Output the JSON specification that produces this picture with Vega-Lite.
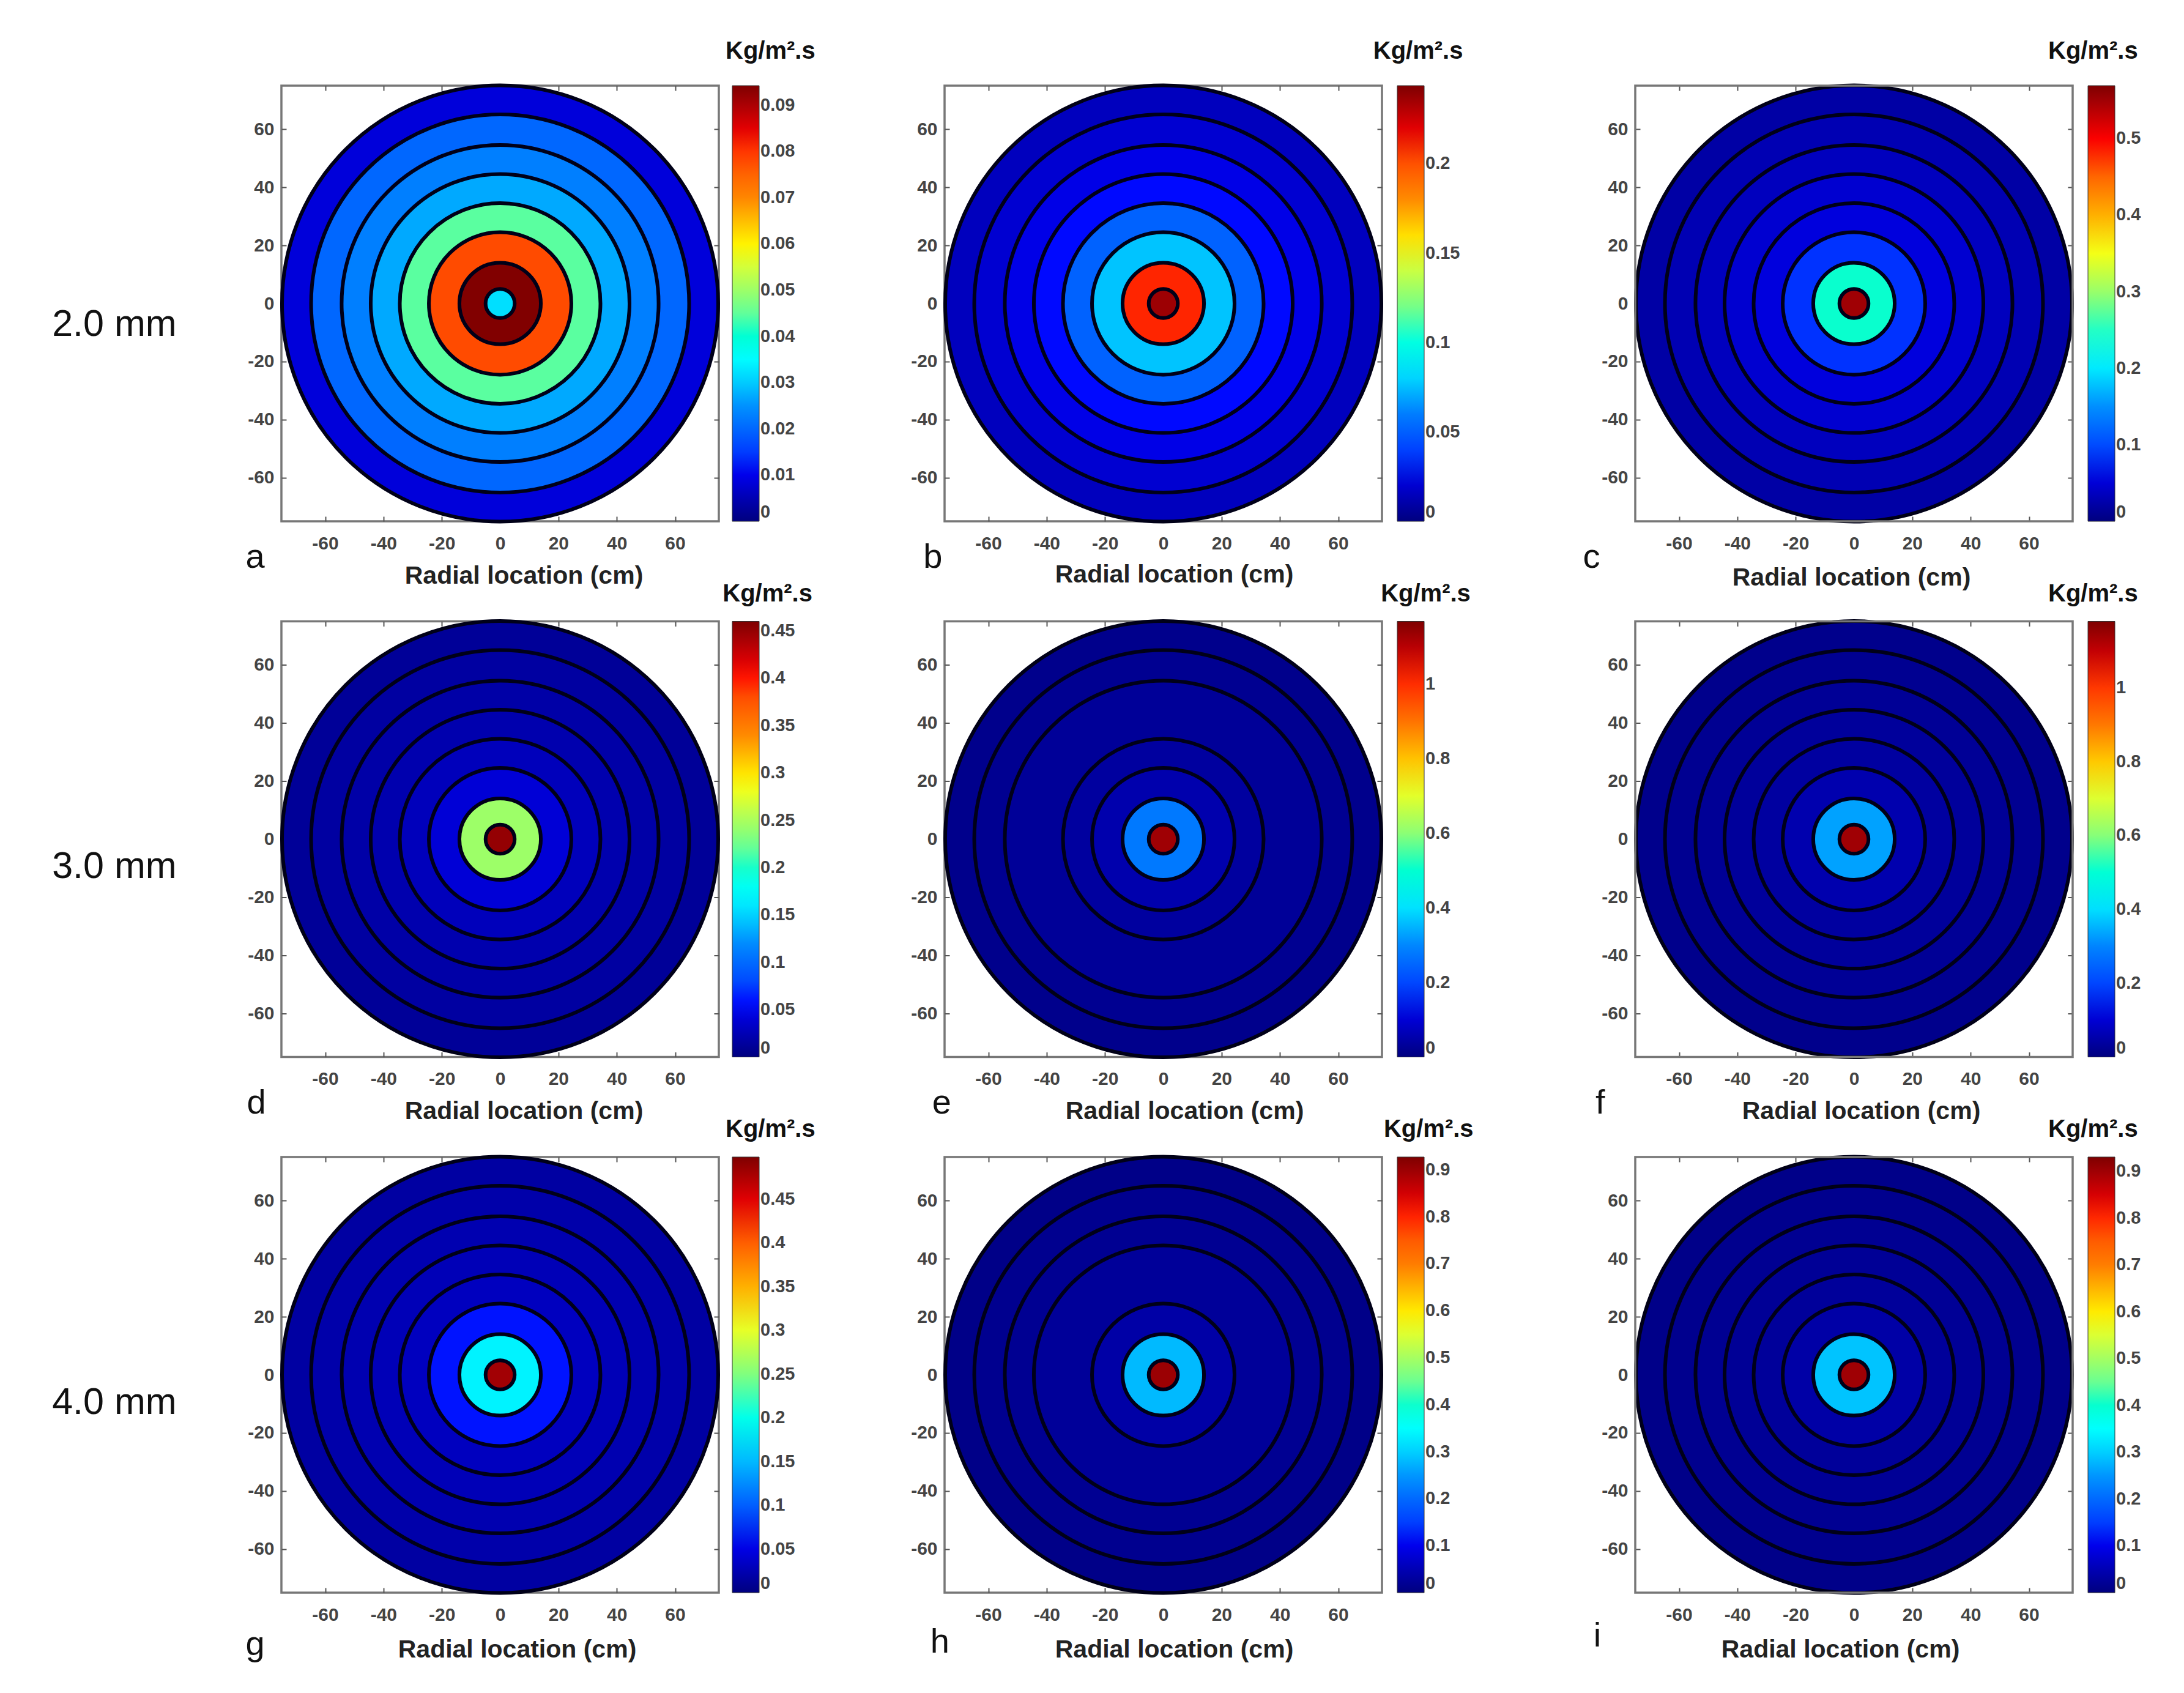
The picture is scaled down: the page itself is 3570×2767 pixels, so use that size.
{"$schema":"https://vega.github.io/schema/vega-lite/v6.json","background":"white","padding":{"left":83,"top":62,"right":0,"bottom":0},"bounds":"flush","columns":3,"spacing":{"row":163.5,"column":369},"resolve":{"scale":{"color":"independent","size":"independent"},"legend":{"color":"independent"}},
"config":{"view":{"stroke":"#777","strokeWidth":3.5,"fill":"white"},"axis":{"grid":false,"domain":false,"tickColor":"#555","tickWidth":2,"labelFont":"Liberation Sans","labelFontWeight":"bold","labelFontSize":30,"labelColor":"#444","titleFont":"Liberation Sans","titleFontWeight":"bold","titleFontSize":41,"titleColor":"#222"},"axisX":{"labelPadding":29},"axisY":{"labelPadding":20},"legend":{"labelFont":"Liberation Sans","labelFontWeight":"bold","labelFontSize":29,"labelColor":"#444","labelOffset":12,"padding":0,"gradientLength":712,"gradientThickness":44,"gradientStrokeColor":"#333","gradientStrokeWidth":1,"labelOverlap":false},"text":{"font":"Liberation Sans","align":"center","baseline":"middle","color":"#111","clip":false}},
"datasets":{"rings":[
{"panel":"a","x":0,"y":0,"r":75,"value":0.0085},{"panel":"a","x":0,"y":0,"r":65,"value":0.02},{"panel":"a","x":0,"y":0,"r":54.5,"value":0.0235},{"panel":"a","x":0,"y":0,"r":44.5,"value":0.027},{"panel":"a","x":0,"y":0,"r":34.5,"value":0.0445},{"panel":"a","x":0,"y":0,"r":24.5,"value":0.078},{"panel":"a","x":0,"y":0,"r":14,"value":0.094},{"panel":"a","x":0,"y":0,"r":5,"value":0.032},
{"panel":"b","x":0,"y":0,"r":75,"value":0.0155},{"panel":"b","x":0,"y":0,"r":65,"value":0.02},{"panel":"b","x":0,"y":0,"r":54.5,"value":0.025},{"panel":"b","x":0,"y":0,"r":44.5,"value":0.031},{"panel":"b","x":0,"y":0,"r":34.5,"value":0.05},{"panel":"b","x":0,"y":0,"r":24.5,"value":0.076},{"panel":"b","x":0,"y":0,"r":14,"value":0.21},{"panel":"b","x":0,"y":0,"r":5,"value":0.236},
{"panel":"c","x":0,"y":0,"r":75,"value":0.022},{"panel":"c","x":0,"y":0,"r":65,"value":0.03},{"panel":"c","x":0,"y":0,"r":54.5,"value":0.036},{"panel":"c","x":0,"y":0,"r":44.5,"value":0.046},{"panel":"c","x":0,"y":0,"r":34.5,"value":0.053},{"panel":"c","x":0,"y":0,"r":24.5,"value":0.085},{"panel":"c","x":0,"y":0,"r":14,"value":0.245},{"panel":"c","x":0,"y":0,"r":5,"value":0.55},
{"panel":"d","x":0,"y":0,"r":75,"value":0.012},{"panel":"d","x":0,"y":0,"r":65,"value":0.016},{"panel":"d","x":0,"y":0,"r":54.5,"value":0.019},{"panel":"d","x":0,"y":0,"r":44.5,"value":0.022},{"panel":"d","x":0,"y":0,"r":34.5,"value":0.028},{"panel":"d","x":0,"y":0,"r":24.5,"value":0.04},{"panel":"d","x":0,"y":0,"r":14,"value":0.244},{"panel":"d","x":0,"y":0,"r":5,"value":0.45},
{"panel":"e","x":0,"y":0,"r":75,"value":0.016},{"panel":"e","x":0,"y":0,"r":65,"value":0.022},{"panel":"e","x":0,"y":0,"r":54.5,"value":0.03},{"panel":"e","x":0,"y":0,"r":34.5,"value":0.038},{"panel":"e","x":0,"y":0,"r":24.5,"value":0.055},{"panel":"e","x":0,"y":0,"r":14,"value":0.28},{"panel":"e","x":0,"y":0,"r":5,"value":1.13},
{"panel":"f","x":0,"y":0,"r":75,"value":0.016},{"panel":"f","x":0,"y":0,"r":65,"value":0.022},{"panel":"f","x":0,"y":0,"r":54.5,"value":0.028},{"panel":"f","x":0,"y":0,"r":44.5,"value":0.034},{"panel":"f","x":0,"y":0,"r":34.5,"value":0.04},{"panel":"f","x":0,"y":0,"r":24.5,"value":0.056},{"panel":"f","x":0,"y":0,"r":14,"value":0.33},{"panel":"f","x":0,"y":0,"r":5,"value":1.14},
{"panel":"g","x":0,"y":0,"r":75,"value":0.018},{"panel":"g","x":0,"y":0,"r":65,"value":0.022},{"panel":"g","x":0,"y":0,"r":54.5,"value":0.025},{"panel":"g","x":0,"y":0,"r":44.5,"value":0.028},{"panel":"g","x":0,"y":0,"r":34.5,"value":0.032},{"panel":"g","x":0,"y":0,"r":24.5,"value":0.065},{"panel":"g","x":0,"y":0,"r":14,"value":0.18},{"panel":"g","x":0,"y":0,"r":5,"value":0.48},
{"panel":"h","x":0,"y":0,"r":75,"value":0.009},{"panel":"h","x":0,"y":0,"r":65,"value":0.015},{"panel":"h","x":0,"y":0,"r":54.5,"value":0.018},{"panel":"h","x":0,"y":0,"r":44.5,"value":0.0245},{"panel":"h","x":0,"y":0,"r":24.5,"value":0.037},{"panel":"h","x":0,"y":0,"r":14,"value":0.28},{"panel":"h","x":0,"y":0,"r":5,"value":0.9},
{"panel":"i","x":0,"y":0,"r":75,"value":0.01},{"panel":"i","x":0,"y":0,"r":65,"value":0.014},{"panel":"i","x":0,"y":0,"r":54.5,"value":0.018},{"panel":"i","x":0,"y":0,"r":44.5,"value":0.022},{"panel":"i","x":0,"y":0,"r":34.5,"value":0.026},{"panel":"i","x":0,"y":0,"r":24.5,"value":0.037},{"panel":"i","x":0,"y":0,"r":14,"value":0.29},{"panel":"i","x":0,"y":0,"r":5,"value":0.9}],
"notes":[
{"panel":"a","kind":"unit","x":92.7,"y":86.8,"label":"Kg/m².s"},{"panel":"b","kind":"unit","x":87.4,"y":86.8,"label":"Kg/m².s"},{"panel":"c","kind":"unit","x":82,"y":86.8,"label":"Kg/m².s"},{"panel":"d","kind":"unit","x":91.7,"y":84.4,"label":"Kg/m².s"},{"panel":"e","kind":"unit","x":90,"y":84.4,"label":"Kg/m².s"},{"panel":"f","kind":"unit","x":82,"y":84.4,"label":"Kg/m².s"},{"panel":"g","kind":"unit","x":92.7,"y":84.4,"label":"Kg/m².s"},{"panel":"h","kind":"unit","x":91,"y":84.4,"label":"Kg/m².s"},{"panel":"i","kind":"unit","x":82,"y":84.4,"label":"Kg/m².s"},
{"panel":"a","kind":"letter","x":-84,"y":-87.5,"label":"a"},{"panel":"b","kind":"letter","x":-79,"y":-87.5,"label":"b"},{"panel":"c","kind":"letter","x":-90,"y":-87.5,"label":"c"},{"panel":"d","kind":"letter","x":-83.6,"y":-91,"label":"d"},{"panel":"e","kind":"letter","x":-76,"y":-91,"label":"e"},{"panel":"f","kind":"letter","x":-87,"y":-91,"label":"f"},{"panel":"g","kind":"letter","x":-84,"y":-93,"label":"g"},{"panel":"h","kind":"letter","x":-76.6,"y":-92,"label":"h"},{"panel":"i","kind":"letter","x":-88,"y":-90,"label":"i"},
{"panel":"a","kind":"row","x":-132.3,"y":-7.3,"label":"2.0 mm"},{"panel":"d","kind":"row","x":-132.3,"y":-9.6,"label":"3.0 mm"},{"panel":"g","kind":"row","x":-132.3,"y":-9.6,"label":"4.0 mm"}],
"frame":[{"x":-75,"x2":75,"y":-75,"y2":75}]},
"concat":[
{"width":715,"height":712,"resolve":{"axis":{"x":"independent","y":"independent"}},"layer":[
{"data":{"name":"rings"},"transform":[{"filter":"datum.panel=='a'"}],"mark":{"type":"point","filled":true,"opacity":1,"stroke":"#000018","strokeWidth":6},"encoding":{
"x":{"field":"x","type":"quantitative","scale":{"domain":[-75,75],"nice":false,"zero":false},"axis":{"orient":"bottom","values":[-60,-40,-20,0,20,40,60],"labelExpr":"''+datum.value","tickSize":-8,"title":"Radial location (cm)","titleX":396,"titleY":89,"titleBaseline":"middle"}},
"y":{"field":"y","type":"quantitative","scale":{"domain":[-75,75],"nice":false,"zero":false},"axis":{"orient":"left","values":[-60,-40,-20,0,20,40,60],"labelExpr":"''+datum.value","tickSize":-8,"title":null}},
"size":{"field":"r","type":"quantitative","scale":{"type":"pow","exponent":2,"domain":[0,75],"range":[0,508369]},"legend":null},
"color":{"field":"value","type":"quantitative","scale":{"domain":[0,0.0942],"range":["#00007f","#0000ff","#007fff","#00ffff","#7fff7f","#ffff00","#ff7f00","#ff0000","#7f0000"]},"legend":{"title":null,"orient":"none","legendX":737,"legendY":0,"values":[0,0.01,0.02,0.03,0.04,0.05,0.06,0.07,0.08,0.09],"format":".2~f","encode":{"labels":{"update":{"baseline":{"value":"middle"}}}}}}}},
{"data":{"name":"notes"},"transform":[{"filter":"datum.panel=='a'&&datum.kind=='unit'"}],"mark":{"type":"text","fontWeight":"bold","fontSize":40},"encoding":{
"x":{"field":"x","type":"quantitative","scale":{"domain":[-75,75],"nice":false,"zero":false},"axis":{"orient":"top","values":[-60,-40,-20,0,20,40,60],"labels":false,"tickSize":-8,"title":null}},
"y":{"field":"y","type":"quantitative","scale":{"domain":[-75,75],"nice":false,"zero":false},"axis":{"orient":"right","values":[-60,-40,-20,0,20,40,60],"labels":false,"tickSize":-8,"title":null}},"text":{"field":"label"}}},
{"data":{"name":"notes"},"transform":[{"filter":"datum.panel=='a'&&datum.kind=='letter'"}],"mark":{"type":"text","fontSize":56},"encoding":{"x":{"field":"x","type":"quantitative","axis":null},"y":{"field":"y","type":"quantitative","axis":null},"text":{"field":"label"}}},
{"data":{"name":"notes"},"transform":[{"filter":"datum.panel=='a'&&datum.kind=='row'"}],"mark":{"type":"text","fontSize":61},"encoding":{"x":{"field":"x","type":"quantitative","axis":null},"y":{"field":"y","type":"quantitative","axis":null},"text":{"field":"label"}}}]},
{"width":715,"height":712,"resolve":{"axis":{"x":"independent","y":"independent"}},"layer":[
{"data":{"name":"rings"},"transform":[{"filter":"datum.panel=='b'"}],"mark":{"type":"point","filled":true,"opacity":1,"stroke":"#000018","strokeWidth":6},"encoding":{
"x":{"field":"x","type":"quantitative","scale":{"domain":[-75,75],"nice":false,"zero":false},"axis":{"orient":"bottom","values":[-60,-40,-20,0,20,40,60],"labelExpr":"''+datum.value","tickSize":-8,"title":"Radial location (cm)","titleX":375,"titleY":87,"titleBaseline":"middle"}},
"y":{"field":"y","type":"quantitative","scale":{"domain":[-75,75],"nice":false,"zero":false},"axis":{"orient":"left","values":[-60,-40,-20,0,20,40,60],"labelExpr":"''+datum.value","tickSize":-8,"title":null}},
"size":{"field":"r","type":"quantitative","scale":{"type":"pow","exponent":2,"domain":[0,75],"range":[0,508369]},"legend":null},
"color":{"field":"value","type":"quantitative","scale":{"domain":[0,0.2436],"range":["#00007f","#0000ff","#007fff","#00ffff","#7fff7f","#ffff00","#ff7f00","#ff0000","#7f0000"]},"legend":{"title":null,"orient":"none","legendX":740,"legendY":0,"values":[0,0.05,0.1,0.15,0.2],"format":".2~f","encode":{"labels":{"update":{"baseline":{"value":"middle"}}}}}}}},
{"data":{"name":"notes"},"transform":[{"filter":"datum.panel=='b'&&datum.kind=='unit'"}],"mark":{"type":"text","fontWeight":"bold","fontSize":40},"encoding":{
"x":{"field":"x","type":"quantitative","scale":{"domain":[-75,75],"nice":false,"zero":false},"axis":{"orient":"top","values":[-60,-40,-20,0,20,40,60],"labels":false,"tickSize":-8,"title":null}},
"y":{"field":"y","type":"quantitative","scale":{"domain":[-75,75],"nice":false,"zero":false},"axis":{"orient":"right","values":[-60,-40,-20,0,20,40,60],"labels":false,"tickSize":-8,"title":null}},"text":{"field":"label"}}},
{"data":{"name":"notes"},"transform":[{"filter":"datum.panel=='b'&&datum.kind=='letter'"}],"mark":{"type":"text","fontSize":56},"encoding":{"x":{"field":"x","type":"quantitative","axis":null},"y":{"field":"y","type":"quantitative","axis":null},"text":{"field":"label"}}}]},
{"width":760,"height":712,"view":{"stroke":null},"resolve":{"axis":{"x":"independent","y":"independent"}},"layer":[
{"data":{"name":"rings"},"transform":[{"filter":"datum.panel=='c'"}],"mark":{"type":"point","filled":true,"opacity":1,"stroke":"#000018","strokeWidth":6},"encoding":{
"x":{"field":"x","type":"quantitative","scale":{"domain":[-75,75],"range":[45,760],"nice":false,"zero":false},"axis":{"orient":"bottom","values":[-60,-40,-20,0,20,40,60],"labelExpr":"''+datum.value","tickSize":-8,"title":"Radial location (cm)","titleX":398,"titleY":92,"titleBaseline":"middle"}},
"y":{"field":"y","type":"quantitative","scale":{"domain":[-75,75],"nice":false,"zero":false},"axis":{"orient":"left","offset":-45,"values":[-60,-40,-20,0,20,40,60],"labelExpr":"''+datum.value","tickSize":-8,"title":null}},
"size":{"field":"r","type":"quantitative","scale":{"type":"pow","exponent":2,"domain":[0,75],"range":[0,508369]},"legend":null},
"color":{"field":"value","type":"quantitative","scale":{"domain":[0,0.569],"range":["#00007f","#0000ff","#007fff","#00ffff","#7fff7f","#ffff00","#ff7f00","#ff0000","#7f0000"]},"legend":{"title":null,"orient":"none","legendX":785,"legendY":0,"values":[0,0.1,0.2,0.3,0.4,0.5],"format":".2~f","encode":{"labels":{"update":{"baseline":{"value":"middle"}}}}}}}},
{"data":{"name":"notes"},"transform":[{"filter":"datum.panel=='c'&&datum.kind=='unit'"}],"mark":{"type":"text","fontWeight":"bold","fontSize":40},"encoding":{
"x":{"field":"x","type":"quantitative","scale":{"domain":[-75,75],"range":[45,760],"nice":false,"zero":false},"axis":{"orient":"top","values":[-60,-40,-20,0,20,40,60],"labels":false,"tickSize":-8,"title":null}},
"y":{"field":"y","type":"quantitative","scale":{"domain":[-75,75],"nice":false,"zero":false},"axis":{"orient":"right","values":[-60,-40,-20,0,20,40,60],"labels":false,"tickSize":-8,"title":null}},"text":{"field":"label"}}},
{"data":{"name":"notes"},"transform":[{"filter":"datum.panel=='c'&&datum.kind=='letter'"}],"mark":{"type":"text","fontSize":56},"encoding":{"x":{"field":"x","type":"quantitative","axis":null},"y":{"field":"y","type":"quantitative","axis":null},"text":{"field":"label"}}},
{"data":{"name":"frame"},"mark":{"type":"rect","fill":null,"stroke":"#777","strokeWidth":3.5},"encoding":{"x":{"field":"x","type":"quantitative","axis":null},"x2":{"field":"x2"},"y":{"field":"y","type":"quantitative","axis":null},"y2":{"field":"y2"}}}]},
{"width":715,"height":712,"resolve":{"axis":{"x":"independent","y":"independent"}},"layer":[
{"data":{"name":"rings"},"transform":[{"filter":"datum.panel=='d'"}],"mark":{"type":"point","filled":true,"opacity":1,"stroke":"#000018","strokeWidth":6},"encoding":{
"x":{"field":"x","type":"quantitative","scale":{"domain":[-75,75],"nice":false,"zero":false},"axis":{"orient":"bottom","values":[-60,-40,-20,0,20,40,60],"labelExpr":"''+datum.value","tickSize":-8,"title":"Radial location (cm)","titleX":396,"titleY":89,"titleBaseline":"middle"}},
"y":{"field":"y","type":"quantitative","scale":{"domain":[-75,75],"nice":false,"zero":false},"axis":{"orient":"left","values":[-60,-40,-20,0,20,40,60],"labelExpr":"''+datum.value","tickSize":-8,"title":null}},
"size":{"field":"r","type":"quantitative","scale":{"type":"pow","exponent":2,"domain":[0,75],"range":[0,508369]},"legend":null},
"color":{"field":"value","type":"quantitative","scale":{"domain":[0,0.46],"range":["#00007f","#0000ff","#007fff","#00ffff","#7fff7f","#ffff00","#ff7f00","#ff0000","#7f0000"]},"legend":{"title":null,"orient":"none","legendX":737,"legendY":0,"values":[0,0.05,0.1,0.15,0.2,0.25,0.3,0.35,0.4,0.45],"format":".2~f","encode":{"labels":{"update":{"baseline":{"value":"middle"}}}}}}}},
{"data":{"name":"notes"},"transform":[{"filter":"datum.panel=='d'&&datum.kind=='unit'"}],"mark":{"type":"text","fontWeight":"bold","fontSize":40},"encoding":{
"x":{"field":"x","type":"quantitative","scale":{"domain":[-75,75],"nice":false,"zero":false},"axis":{"orient":"top","values":[-60,-40,-20,0,20,40,60],"labels":false,"tickSize":-8,"title":null}},
"y":{"field":"y","type":"quantitative","scale":{"domain":[-75,75],"nice":false,"zero":false},"axis":{"orient":"right","values":[-60,-40,-20,0,20,40,60],"labels":false,"tickSize":-8,"title":null}},"text":{"field":"label"}}},
{"data":{"name":"notes"},"transform":[{"filter":"datum.panel=='d'&&datum.kind=='letter'"}],"mark":{"type":"text","fontSize":56},"encoding":{"x":{"field":"x","type":"quantitative","axis":null},"y":{"field":"y","type":"quantitative","axis":null},"text":{"field":"label"}}},
{"data":{"name":"notes"},"transform":[{"filter":"datum.panel=='d'&&datum.kind=='row'"}],"mark":{"type":"text","fontSize":61},"encoding":{"x":{"field":"x","type":"quantitative","axis":null},"y":{"field":"y","type":"quantitative","axis":null},"text":{"field":"label"}}}]},
{"width":715,"height":712,"resolve":{"axis":{"x":"independent","y":"independent"}},"layer":[
{"data":{"name":"rings"},"transform":[{"filter":"datum.panel=='e'"}],"mark":{"type":"point","filled":true,"opacity":1,"stroke":"#000018","strokeWidth":6},"encoding":{
"x":{"field":"x","type":"quantitative","scale":{"domain":[-75,75],"nice":false,"zero":false},"axis":{"orient":"bottom","values":[-60,-40,-20,0,20,40,60],"labelExpr":"''+datum.value","tickSize":-8,"title":"Radial location (cm)","titleX":392,"titleY":89,"titleBaseline":"middle"}},
"y":{"field":"y","type":"quantitative","scale":{"domain":[-75,75],"nice":false,"zero":false},"axis":{"orient":"left","values":[-60,-40,-20,0,20,40,60],"labelExpr":"''+datum.value","tickSize":-8,"title":null}},
"size":{"field":"r","type":"quantitative","scale":{"type":"pow","exponent":2,"domain":[0,75],"range":[0,508369]},"legend":null},
"color":{"field":"value","type":"quantitative","scale":{"domain":[0,1.168],"range":["#00007f","#0000ff","#007fff","#00ffff","#7fff7f","#ffff00","#ff7f00","#ff0000","#7f0000"]},"legend":{"title":null,"orient":"none","legendX":740,"legendY":0,"values":[0,0.2,0.4,0.6,0.8,1],"format":".2~f","encode":{"labels":{"update":{"baseline":{"value":"middle"}}}}}}}},
{"data":{"name":"notes"},"transform":[{"filter":"datum.panel=='e'&&datum.kind=='unit'"}],"mark":{"type":"text","fontWeight":"bold","fontSize":40},"encoding":{
"x":{"field":"x","type":"quantitative","scale":{"domain":[-75,75],"nice":false,"zero":false},"axis":{"orient":"top","values":[-60,-40,-20,0,20,40,60],"labels":false,"tickSize":-8,"title":null}},
"y":{"field":"y","type":"quantitative","scale":{"domain":[-75,75],"nice":false,"zero":false},"axis":{"orient":"right","values":[-60,-40,-20,0,20,40,60],"labels":false,"tickSize":-8,"title":null}},"text":{"field":"label"}}},
{"data":{"name":"notes"},"transform":[{"filter":"datum.panel=='e'&&datum.kind=='letter'"}],"mark":{"type":"text","fontSize":56},"encoding":{"x":{"field":"x","type":"quantitative","axis":null},"y":{"field":"y","type":"quantitative","axis":null},"text":{"field":"label"}}}]},
{"width":760,"height":712,"view":{"stroke":null},"resolve":{"axis":{"x":"independent","y":"independent"}},"layer":[
{"data":{"name":"rings"},"transform":[{"filter":"datum.panel=='f'"}],"mark":{"type":"point","filled":true,"opacity":1,"stroke":"#000018","strokeWidth":6},"encoding":{
"x":{"field":"x","type":"quantitative","scale":{"domain":[-75,75],"range":[45,760],"nice":false,"zero":false},"axis":{"orient":"bottom","values":[-60,-40,-20,0,20,40,60],"labelExpr":"''+datum.value","tickSize":-8,"title":"Radial location (cm)","titleX":414,"titleY":89,"titleBaseline":"middle"}},
"y":{"field":"y","type":"quantitative","scale":{"domain":[-75,75],"nice":false,"zero":false},"axis":{"orient":"left","offset":-45,"values":[-60,-40,-20,0,20,40,60],"labelExpr":"''+datum.value","tickSize":-8,"title":null}},
"size":{"field":"r","type":"quantitative","scale":{"type":"pow","exponent":2,"domain":[0,75],"range":[0,508369]},"legend":null},
"color":{"field":"value","type":"quantitative","scale":{"domain":[0,1.18],"range":["#00007f","#0000ff","#007fff","#00ffff","#7fff7f","#ffff00","#ff7f00","#ff0000","#7f0000"]},"legend":{"title":null,"orient":"none","legendX":785,"legendY":0,"values":[0,0.2,0.4,0.6,0.8,1],"format":".2~f","encode":{"labels":{"update":{"baseline":{"value":"middle"}}}}}}}},
{"data":{"name":"notes"},"transform":[{"filter":"datum.panel=='f'&&datum.kind=='unit'"}],"mark":{"type":"text","fontWeight":"bold","fontSize":40},"encoding":{
"x":{"field":"x","type":"quantitative","scale":{"domain":[-75,75],"range":[45,760],"nice":false,"zero":false},"axis":{"orient":"top","values":[-60,-40,-20,0,20,40,60],"labels":false,"tickSize":-8,"title":null}},
"y":{"field":"y","type":"quantitative","scale":{"domain":[-75,75],"nice":false,"zero":false},"axis":{"orient":"right","values":[-60,-40,-20,0,20,40,60],"labels":false,"tickSize":-8,"title":null}},"text":{"field":"label"}}},
{"data":{"name":"notes"},"transform":[{"filter":"datum.panel=='f'&&datum.kind=='letter'"}],"mark":{"type":"text","fontSize":56},"encoding":{"x":{"field":"x","type":"quantitative","axis":null},"y":{"field":"y","type":"quantitative","axis":null},"text":{"field":"label"}}},
{"data":{"name":"frame"},"mark":{"type":"rect","fill":null,"stroke":"#777","strokeWidth":3.5},"encoding":{"x":{"field":"x","type":"quantitative","axis":null},"x2":{"field":"x2"},"y":{"field":"y","type":"quantitative","axis":null},"y2":{"field":"y2"}}}]},
{"width":715,"height":712,"resolve":{"axis":{"x":"independent","y":"independent"}},"layer":[
{"data":{"name":"rings"},"transform":[{"filter":"datum.panel=='g'"}],"mark":{"type":"point","filled":true,"opacity":1,"stroke":"#000018","strokeWidth":6},"encoding":{
"x":{"field":"x","type":"quantitative","scale":{"domain":[-75,75],"nice":false,"zero":false},"axis":{"orient":"bottom","values":[-60,-40,-20,0,20,40,60],"labelExpr":"''+datum.value","tickSize":-8,"title":"Radial location (cm)","titleX":385,"titleY":93,"titleBaseline":"middle"}},
"y":{"field":"y","type":"quantitative","scale":{"domain":[-75,75],"nice":false,"zero":false},"axis":{"orient":"left","values":[-60,-40,-20,0,20,40,60],"labelExpr":"''+datum.value","tickSize":-8,"title":null}},
"size":{"field":"r","type":"quantitative","scale":{"type":"pow","exponent":2,"domain":[0,75],"range":[0,508369]},"legend":null},
"color":{"field":"value","type":"quantitative","scale":{"domain":[0,0.498],"range":["#00007f","#0000ff","#007fff","#00ffff","#7fff7f","#ffff00","#ff7f00","#ff0000","#7f0000"]},"legend":{"title":null,"orient":"none","legendX":737,"legendY":0,"values":[0,0.05,0.1,0.15,0.2,0.25,0.3,0.35,0.4,0.45],"format":".2~f","encode":{"labels":{"update":{"baseline":{"value":"middle"}}}}}}}},
{"data":{"name":"notes"},"transform":[{"filter":"datum.panel=='g'&&datum.kind=='unit'"}],"mark":{"type":"text","fontWeight":"bold","fontSize":40},"encoding":{
"x":{"field":"x","type":"quantitative","scale":{"domain":[-75,75],"nice":false,"zero":false},"axis":{"orient":"top","values":[-60,-40,-20,0,20,40,60],"labels":false,"tickSize":-8,"title":null}},
"y":{"field":"y","type":"quantitative","scale":{"domain":[-75,75],"nice":false,"zero":false},"axis":{"orient":"right","values":[-60,-40,-20,0,20,40,60],"labels":false,"tickSize":-8,"title":null}},"text":{"field":"label"}}},
{"data":{"name":"notes"},"transform":[{"filter":"datum.panel=='g'&&datum.kind=='letter'"}],"mark":{"type":"text","fontSize":56},"encoding":{"x":{"field":"x","type":"quantitative","axis":null},"y":{"field":"y","type":"quantitative","axis":null},"text":{"field":"label"}}},
{"data":{"name":"notes"},"transform":[{"filter":"datum.panel=='g'&&datum.kind=='row'"}],"mark":{"type":"text","fontSize":61},"encoding":{"x":{"field":"x","type":"quantitative","axis":null},"y":{"field":"y","type":"quantitative","axis":null},"text":{"field":"label"}}}]},
{"width":715,"height":712,"resolve":{"axis":{"x":"independent","y":"independent"}},"layer":[
{"data":{"name":"rings"},"transform":[{"filter":"datum.panel=='h'"}],"mark":{"type":"point","filled":true,"opacity":1,"stroke":"#000018","strokeWidth":6},"encoding":{
"x":{"field":"x","type":"quantitative","scale":{"domain":[-75,75],"nice":false,"zero":false},"axis":{"orient":"bottom","values":[-60,-40,-20,0,20,40,60],"labelExpr":"''+datum.value","tickSize":-8,"title":"Radial location (cm)","titleX":375,"titleY":93,"titleBaseline":"middle"}},
"y":{"field":"y","type":"quantitative","scale":{"domain":[-75,75],"nice":false,"zero":false},"axis":{"orient":"left","values":[-60,-40,-20,0,20,40,60],"labelExpr":"''+datum.value","tickSize":-8,"title":null}},
"size":{"field":"r","type":"quantitative","scale":{"type":"pow","exponent":2,"domain":[0,75],"range":[0,508369]},"legend":null},
"color":{"field":"value","type":"quantitative","scale":{"domain":[0,0.927],"range":["#00007f","#0000ff","#007fff","#00ffff","#7fff7f","#ffff00","#ff7f00","#ff0000","#7f0000"]},"legend":{"title":null,"orient":"none","legendX":740,"legendY":0,"values":[0,0.1,0.2,0.3,0.4,0.5,0.6,0.7,0.8,0.9],"format":".2~f","encode":{"labels":{"update":{"baseline":{"value":"middle"}}}}}}}},
{"data":{"name":"notes"},"transform":[{"filter":"datum.panel=='h'&&datum.kind=='unit'"}],"mark":{"type":"text","fontWeight":"bold","fontSize":40},"encoding":{
"x":{"field":"x","type":"quantitative","scale":{"domain":[-75,75],"nice":false,"zero":false},"axis":{"orient":"top","values":[-60,-40,-20,0,20,40,60],"labels":false,"tickSize":-8,"title":null}},
"y":{"field":"y","type":"quantitative","scale":{"domain":[-75,75],"nice":false,"zero":false},"axis":{"orient":"right","values":[-60,-40,-20,0,20,40,60],"labels":false,"tickSize":-8,"title":null}},"text":{"field":"label"}}},
{"data":{"name":"notes"},"transform":[{"filter":"datum.panel=='h'&&datum.kind=='letter'"}],"mark":{"type":"text","fontSize":56},"encoding":{"x":{"field":"x","type":"quantitative","axis":null},"y":{"field":"y","type":"quantitative","axis":null},"text":{"field":"label"}}}]},
{"width":760,"height":712,"view":{"stroke":null},"resolve":{"axis":{"x":"independent","y":"independent"}},"layer":[
{"data":{"name":"rings"},"transform":[{"filter":"datum.panel=='i'"}],"mark":{"type":"point","filled":true,"opacity":1,"stroke":"#000018","strokeWidth":6},"encoding":{
"x":{"field":"x","type":"quantitative","scale":{"domain":[-75,75],"range":[45,760],"nice":false,"zero":false},"axis":{"orient":"bottom","values":[-60,-40,-20,0,20,40,60],"labelExpr":"''+datum.value","tickSize":-8,"title":"Radial location (cm)","titleX":380,"titleY":93,"titleBaseline":"middle"}},
"y":{"field":"y","type":"quantitative","scale":{"domain":[-75,75],"nice":false,"zero":false},"axis":{"orient":"left","offset":-45,"values":[-60,-40,-20,0,20,40,60],"labelExpr":"''+datum.value","tickSize":-8,"title":null}},
"size":{"field":"r","type":"quantitative","scale":{"type":"pow","exponent":2,"domain":[0,75],"range":[0,508369]},"legend":null},
"color":{"field":"value","type":"quantitative","scale":{"domain":[0,0.93],"range":["#00007f","#0000ff","#007fff","#00ffff","#7fff7f","#ffff00","#ff7f00","#ff0000","#7f0000"]},"legend":{"title":null,"orient":"none","legendX":785,"legendY":0,"values":[0,0.1,0.2,0.3,0.4,0.5,0.6,0.7,0.8,0.9],"format":".2~f","encode":{"labels":{"update":{"baseline":{"value":"middle"}}}}}}}},
{"data":{"name":"notes"},"transform":[{"filter":"datum.panel=='i'&&datum.kind=='unit'"}],"mark":{"type":"text","fontWeight":"bold","fontSize":40},"encoding":{
"x":{"field":"x","type":"quantitative","scale":{"domain":[-75,75],"range":[45,760],"nice":false,"zero":false},"axis":{"orient":"top","values":[-60,-40,-20,0,20,40,60],"labels":false,"tickSize":-8,"title":null}},
"y":{"field":"y","type":"quantitative","scale":{"domain":[-75,75],"nice":false,"zero":false},"axis":{"orient":"right","values":[-60,-40,-20,0,20,40,60],"labels":false,"tickSize":-8,"title":null}},"text":{"field":"label"}}},
{"data":{"name":"notes"},"transform":[{"filter":"datum.panel=='i'&&datum.kind=='letter'"}],"mark":{"type":"text","fontSize":56},"encoding":{"x":{"field":"x","type":"quantitative","axis":null},"y":{"field":"y","type":"quantitative","axis":null},"text":{"field":"label"}}},
{"data":{"name":"frame"},"mark":{"type":"rect","fill":null,"stroke":"#777","strokeWidth":3.5},"encoding":{"x":{"field":"x","type":"quantitative","axis":null},"x2":{"field":"x2"},"y":{"field":"y","type":"quantitative","axis":null},"y2":{"field":"y2"}}}]}
]}
